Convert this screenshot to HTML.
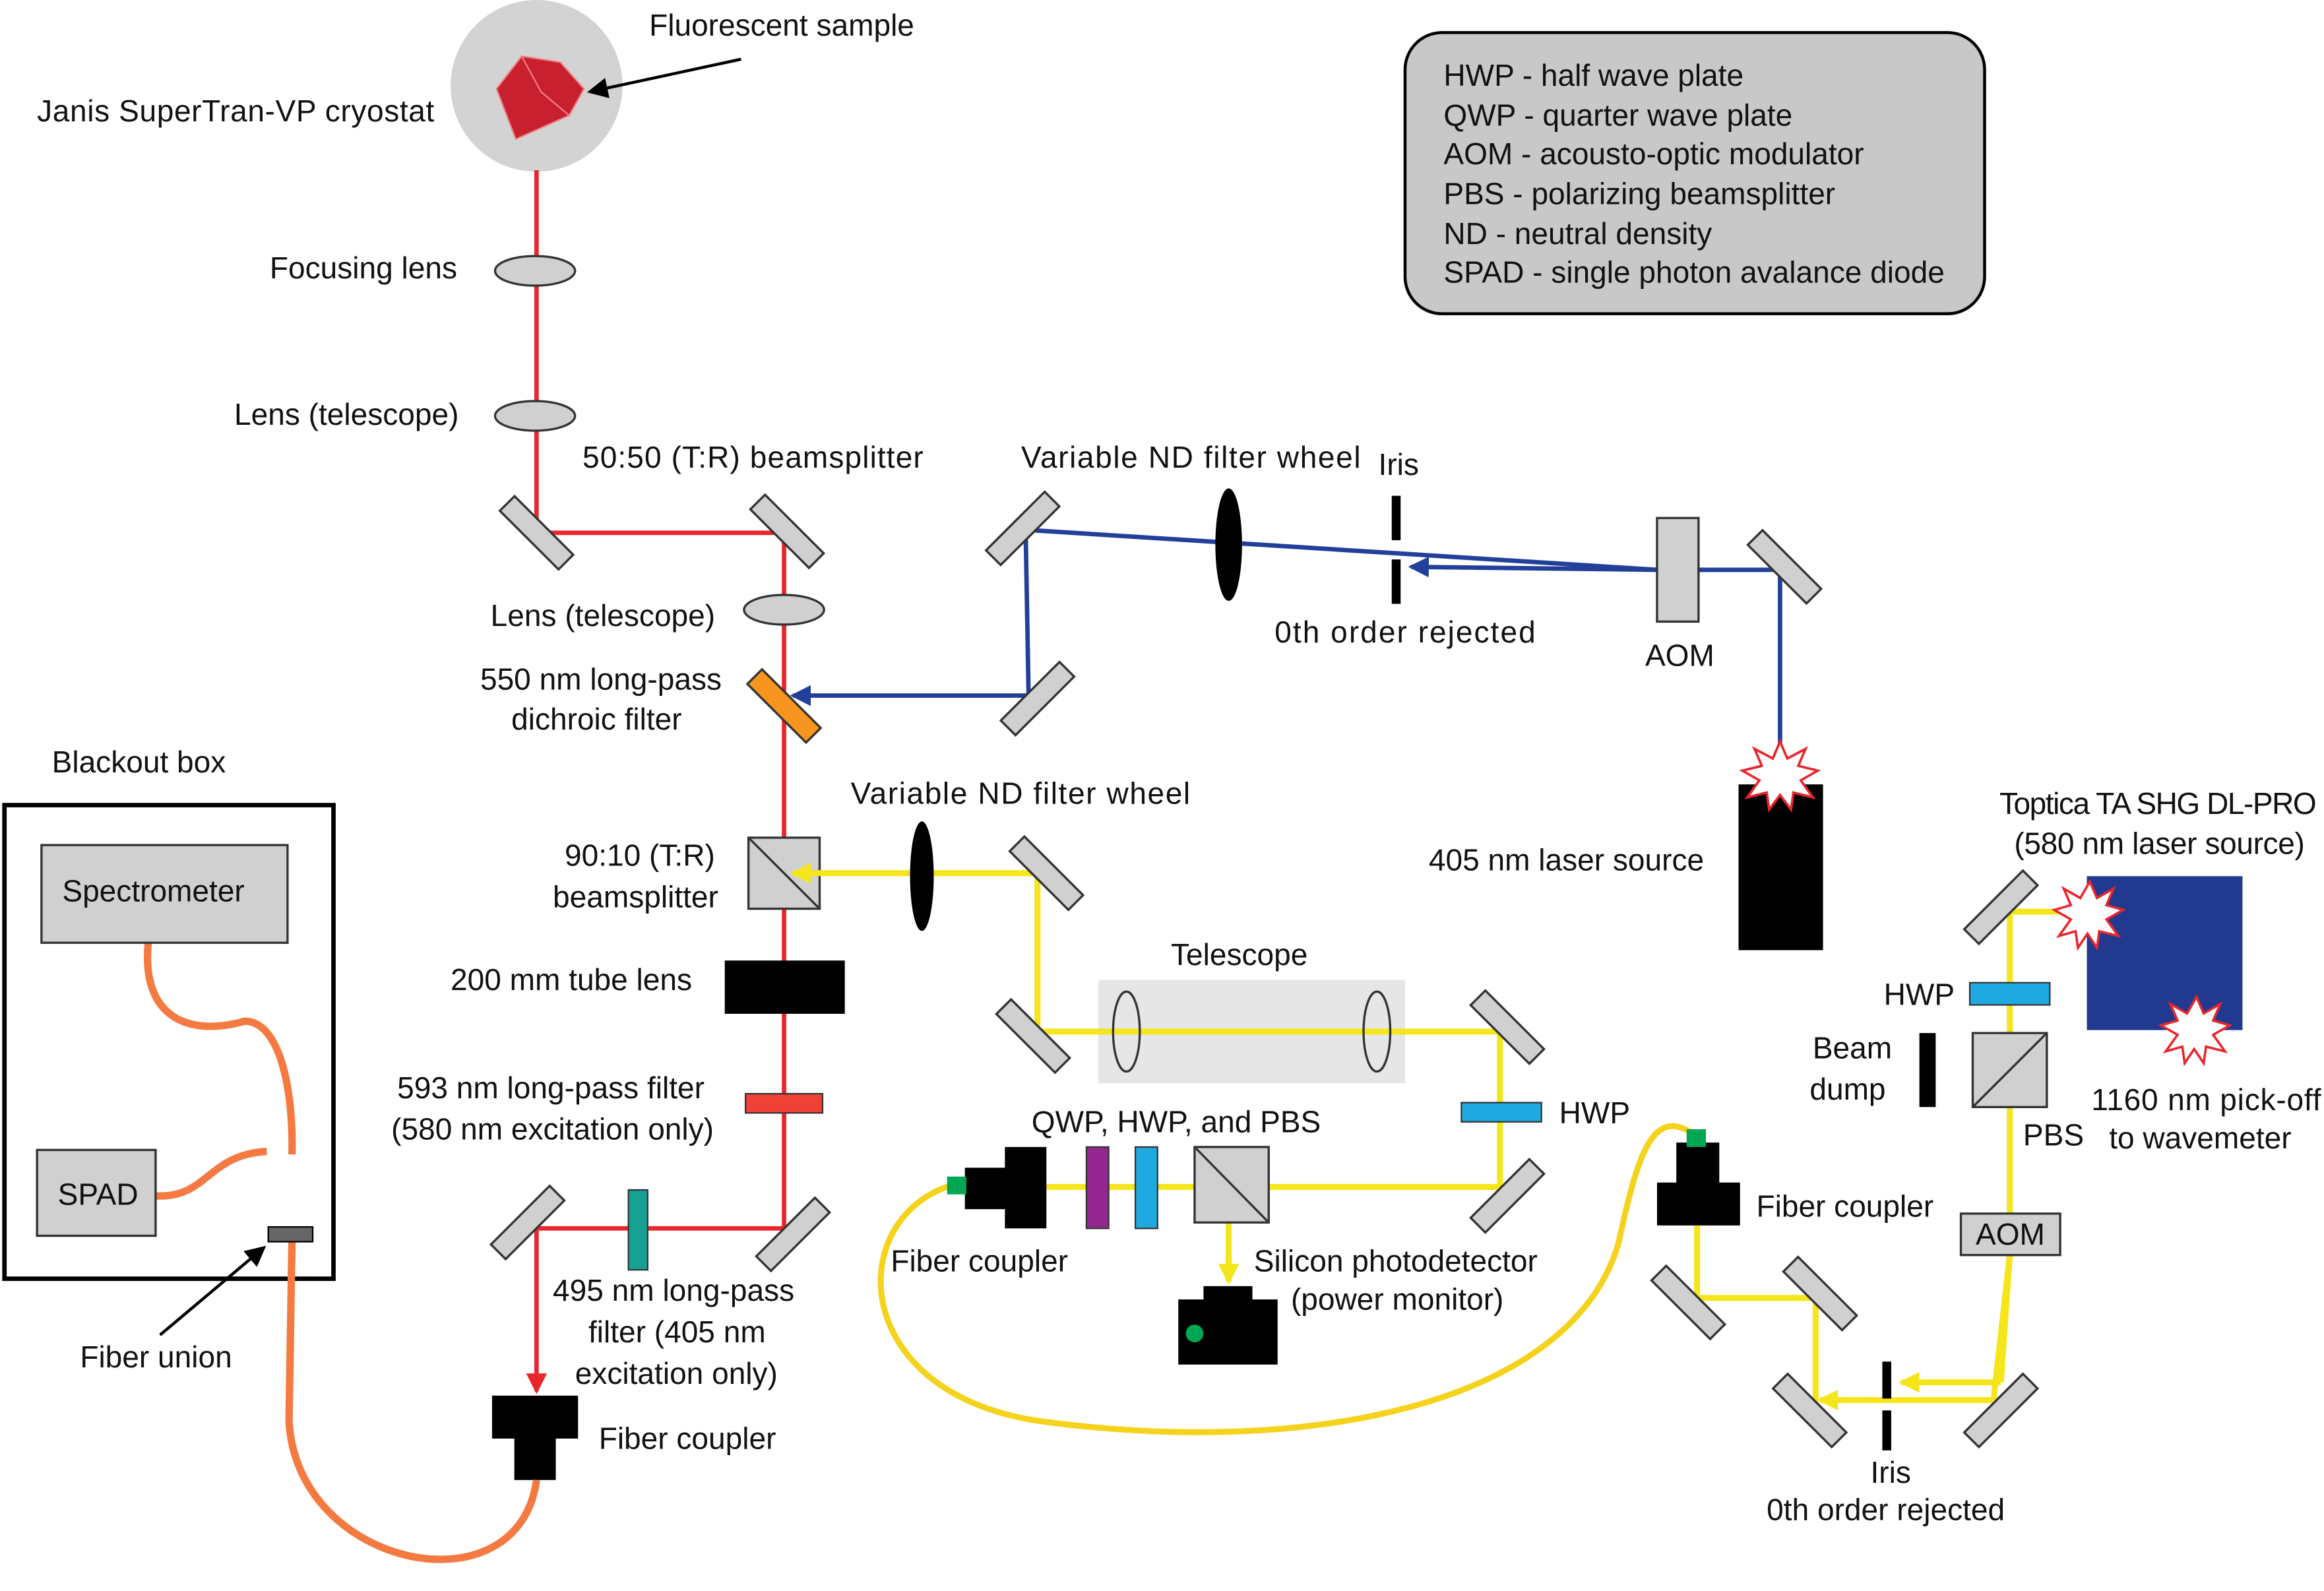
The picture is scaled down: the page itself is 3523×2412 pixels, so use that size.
<!DOCTYPE html>
<html><head><meta charset="utf-8"><style>
html,body{margin:0;padding:0;background:#fff;}
svg{display:block;}
text{font-family:"Liberation Sans",sans-serif;font-size:20.5px;fill:#111;}
.m{fill:#d0d0d0;stroke:#333;stroke-width:1.5;}
</style></head><body>
<svg width="3523" height="2412" viewBox="0 0 1568 1075" preserveAspectRatio="none" xmlns="http://www.w3.org/2000/svg">
<defs>
<marker id="ab" markerWidth="14" markerHeight="14" refX="12" refY="7" orient="auto" markerUnits="userSpaceOnUse"><path d="M0,0 L14,7 L0,14 z" fill="#22409a"/></marker>
<marker id="ay" markerWidth="14" markerHeight="14" refX="12" refY="7" orient="auto" markerUnits="userSpaceOnUse"><path d="M0,0 L14,7 L0,14 z" fill="#f5e51b"/></marker>
<marker id="ard" markerWidth="14" markerHeight="14" refX="12" refY="7" orient="auto" markerUnits="userSpaceOnUse"><path d="M0,0 L14,7 L0,14 z" fill="#e8262c"/></marker>
<marker id="ak" markerWidth="14" markerHeight="14" refX="12" refY="7" orient="auto" markerUnits="userSpaceOnUse"><path d="M0,0 L14,7 L0,14 z" fill="#000"/></marker>
</defs>

<rect x="948" y="22" width="391" height="190" rx="25" fill="#c8c8c8" stroke="#000" stroke-width="2"/>
<text x="974" y="58">HWP - half wave plate</text>
<text x="974" y="85">QWP - quarter wave plate</text>
<text x="974" y="111">AOM - acousto-optic modulator</text>
<text x="974" y="138">PBS - polarizing beamsplitter</text>
<text x="974" y="165">ND - neutral density</text>
<text x="974" y="191" textLength="338">SPAD - single photon avalance diode</text>

<circle cx="362" cy="58" r="58" fill="#d3d3d3"/>
<polygon points="335,60 352,38 378,42 394,60 384,78 348,94" fill="#c8202f" stroke="#f08080" stroke-width="1"/>
<polyline points="352,38 365,62 384,78 M365,62 348,94" fill="none" stroke="#f08080" stroke-width="1"/>
<line x1="500" y1="40" x2="398" y2="62" stroke="#000" stroke-width="2" marker-end="url(#ak)"/>
<text x="438" y="24">Fluorescent sample</text>
<text x="25" y="82" textLength="268">Janis SuperTran-VP cryostat</text>

<g stroke="#e8262c" stroke-width="3" fill="none">
<line x1="362" y1="115" x2="362" y2="360"/>
<line x1="362" y1="360" x2="529" y2="360"/>
<line x1="529" y1="360" x2="529" y2="830"/>
<line x1="362" y1="830" x2="529" y2="830"/>
<line x1="362" y1="830" x2="362" y2="940" marker-end="url(#ard)"/>
</g>
<ellipse cx="361" cy="183" rx="27" ry="10" class="m"/>
<ellipse cx="361" cy="281" rx="27" ry="10" class="m"/>
<ellipse cx="529" cy="412" rx="27" ry="10" class="m"/>
<text x="182" y="188">Focusing lens</text>
<text x="158" y="287">Lens (telescope)</text>
<text x="393" y="316" textLength="230">50:50 (T:R) beamsplitter</text>
<text x="331" y="423">Lens (telescope)</text>
<text x="324" y="466">550 nm long-pass</text>
<text x="345" y="493">dichroic filter</text>
<text x="381" y="585">90:10 (T:R)</text>
<text x="373" y="613">beamsplitter</text>
<text x="304" y="669">200 mm tube lens</text>
<text x="268" y="742">593 nm long-pass filter</text>
<text x="264" y="770">(580 nm excitation only)</text>
<text x="373" y="879">495 nm long-pass</text>
<text x="397" y="907">filter (405 nm</text>
<text x="388" y="935">excitation only)</text>
<text x="404" y="979">Fiber coupler</text>

<rect x="505" y="566" width="48" height="48" class="m"/>
<line x1="505" y1="566" x2="553" y2="614" stroke="#333" stroke-width="1.5"/>
<rect x="489" y="649" width="81" height="36" fill="#000"/>
<rect x="503" y="739" width="52" height="13" fill="#ef4136" stroke="#333"/>
<rect x="424" y="804" width="13" height="54" fill="#17a195" stroke="#333"/>
<rect x="332" y="943" width="58" height="29" fill="#000"/>
<rect x="347" y="970" width="28" height="30" fill="#000"/>
<rect x="-28" y="-7" width="56" height="14" transform="translate(529,477) rotate(45)" fill="#f7941d" stroke="#333" stroke-width="1.5"/>

<g stroke="#22409a" stroke-width="3" fill="none">
<line x1="692" y1="358" x2="1118" y2="385"/>
<line x1="1118" y1="385" x2="952" y2="383" marker-end="url(#ab)"/>
<line x1="1146" y1="385" x2="1201" y2="385"/>
<line x1="1201" y1="385" x2="1201" y2="528"/>
<line x1="692" y1="358" x2="694" y2="470"/>
<line x1="694" y1="470" x2="535" y2="470" marker-end="url(#ab)"/>
</g>
<ellipse cx="829" cy="368" rx="9" ry="38" fill="#000"/>
<rect x="939" y="335" width="6" height="30" fill="#000"/>
<rect x="939" y="378" width="6" height="30" fill="#000"/>
<rect x="1118" y="350" width="28" height="70" class="m" stroke="#000" stroke-width="2"/>
<rect x="1173" y="530" width="57" height="112" fill="#000"/>
<g transform="translate(1201,524) scale(0.82) translate(-1201,-524)">
<polygon points="1201,496 1207,510 1222,502 1216,516 1232,520 1218,528 1228,542 1212,538 1210,552 1201,540 1192,552 1190,538 1174,542 1184,528 1170,520 1186,516 1180,502 1195,510" fill="#fff" stroke="#e8262c" stroke-width="2"/>
</g>
<text x="689" y="316" textLength="229">Variable ND filter wheel</text>
<text x="930" y="321">Iris</text>
<text x="860" y="434" textLength="176">0th order rejected</text>
<text x="1110" y="450">AOM</text>
<text x="964" y="588">405 nm laser source</text>

<rect x="741" y="662" width="207" height="70" fill="#e6e6e6"/>
<g stroke="#f5e51b" stroke-width="4" fill="none">
<line x1="706" y1="590" x2="535" y2="590" marker-end="url(#ay)"/>
<line x1="700" y1="590" x2="700" y2="697"/>
<line x1="700" y1="697" x2="1012" y2="697"/>
<line x1="1012" y1="697" x2="1012" y2="802"/>
<line x1="1012" y1="802" x2="706" y2="802"/>
<line x1="829" y1="802" x2="829" y2="866" marker-end="url(#ay)"/>
<line x1="1145" y1="828" x2="1145" y2="877"/>
<line x1="1145" y1="877" x2="1225" y2="877"/>
<line x1="1225" y1="877" x2="1225" y2="950"/>
<line x1="1356" y1="616" x2="1410" y2="616"/>
<line x1="1356" y1="616" x2="1356" y2="850"/>
<line x1="1356" y1="848" x2="1345" y2="946"/>
<line x1="1356" y1="848" x2="1350" y2="934"/>
<line x1="1350" y1="934" x2="1283" y2="934" marker-end="url(#ay)"/>
<line x1="1345" y1="946" x2="1228" y2="946" marker-end="url(#ay)"/>
</g>
<path d="M645,800 C570,820 570,940 700,960 C880,985 1060,950 1092,840 C1105,780 1115,745 1145,768" fill="none" stroke="#f5d21b" stroke-width="4"/>
<ellipse cx="622" cy="592" rx="8" ry="37" fill="#000"/>
<ellipse cx="760" cy="697" rx="9" ry="27" fill="none" stroke="#333" stroke-width="1.5"/>
<ellipse cx="929" cy="697" rx="9" ry="27" fill="none" stroke="#333" stroke-width="1.5"/>
<rect x="986" y="745" width="54" height="13" fill="#1fa9e1" stroke="#333"/>
<rect x="806" y="775" width="50" height="51" class="m"/>
<line x1="806" y1="775" x2="856" y2="826" stroke="#333" stroke-width="1.5"/>
<rect x="733" y="775" width="15" height="55" fill="#92278f" stroke="#333"/>
<rect x="766" y="775" width="15" height="55" fill="#1fa9e1" stroke="#333"/>
<rect x="678" y="775" width="28" height="55" fill="#000"/>
<rect x="651" y="789" width="30" height="28" fill="#000"/>
<rect x="639" y="795" width="13" height="12" fill="#00a651"/>
<rect x="812" y="869" width="33" height="10" fill="#000"/>
<rect x="795" y="878" width="67" height="44" fill="#000"/>
<circle cx="806" cy="901" r="6" fill="#00a651"/>
<rect x="1131" y="772" width="29" height="28" fill="#000"/>
<rect x="1118" y="799" width="56" height="29" fill="#000"/>
<rect x="1138" y="763" width="13" height="12" fill="#00a651"/>
<rect x="1270" y="920" width="6" height="25" fill="#000"/>
<rect x="1270" y="953" width="6" height="27" fill="#000"/>
<text x="574" y="543" textLength="229">Variable ND filter wheel</text>
<text x="790" y="652">Telescope</text>
<text x="1052" y="759">HWP</text>
<text x="696" y="765">QWP, HWP, and PBS</text>
<text x="601" y="859">Fiber coupler</text>
<text x="846" y="859">Silicon photodetector</text>
<text x="871" y="885">(power monitor)</text>
<text x="1185" y="822">Fiber coupler</text>
<text x="1262" y="1002">Iris</text>
<text x="1192" y="1027">0th order rejected</text>

<rect x="1408" y="592" width="105" height="104" fill="#213a8f"/>
<g transform="translate(1410,618) scale(0.8) translate(-1410,-618)">
<polygon points="1410,590 1416,604 1430,596 1424,610 1438,614 1424,622 1434,636 1418,632 1416,646 1408,634 1400,646 1398,632 1384,636 1394,622 1380,614 1394,610 1388,596 1402,604" fill="#fff" stroke="#e8262c" stroke-width="2"/>
</g>
<g transform="translate(1482,696) scale(0.8) translate(-1482,-696)">
<polygon points="1482,668 1488,682 1502,674 1496,688 1510,692 1496,700 1506,714 1490,710 1488,724 1480,712 1472,724 1470,710 1456,714 1466,700 1452,692 1466,688 1460,674 1474,682" fill="#fff" stroke="#e8262c" stroke-width="2"/>
</g>
<rect x="1329" y="664" width="54" height="15" fill="#1fa9e1" stroke="#333"/>
<rect x="1331" y="698" width="50" height="50" class="m"/>
<line x1="1331" y1="748" x2="1381" y2="698" stroke="#333" stroke-width="1.5"/>
<rect x="1295" y="698" width="11" height="50" fill="#000"/>
<rect x="1323" y="820" width="67" height="28" class="m" stroke="#000" stroke-width="2"/>
<text x="1333" y="841">AOM</text>
<text x="1349" y="550" textLength="214">Toptica TA SHG DL-PRO</text>
<text x="1359" y="577" textLength="196">(580 nm laser source)</text>
<text x="1271" y="679">HWP</text>
<text x="1223" y="715">Beam</text>
<text x="1221" y="743">dump</text>
<text x="1365" y="774">PBS</text>
<text x="1411" y="750" textLength="155">1160 nm pick-off</text>
<text x="1423" y="776">to wavemeter</text>

<g class="m">
<rect x="-28" y="-7" width="56" height="14" transform="translate(362,360) rotate(45)"/>
<rect x="-28" y="-7" width="56" height="14" transform="translate(531,359) rotate(45)"/>
<rect x="-28" y="-7" width="56" height="14" transform="translate(690,357) rotate(-45)"/>
<rect x="-28" y="-7" width="56" height="14" transform="translate(700,472) rotate(-45)"/>
<rect x="-28" y="-7" width="56" height="14" transform="translate(1204,383) rotate(45)"/>
<rect x="-28" y="-7" width="56" height="14" transform="translate(706,590) rotate(45)"/>
<rect x="-28" y="-7" width="56" height="14" transform="translate(697,700) rotate(45)"/>
<rect x="-28" y="-7" width="56" height="14" transform="translate(1017,694) rotate(45)"/>
<rect x="-28" y="-7" width="56" height="14" transform="translate(1017,808) rotate(-45)"/>
<rect x="-28" y="-7" width="56" height="14" transform="translate(356,826) rotate(-45)"/>
<rect x="-28" y="-7" width="56" height="14" transform="translate(535,834) rotate(-45)"/>
<rect x="-28" y="-7" width="56" height="14" transform="translate(1139,880) rotate(45)"/>
<rect x="-28" y="-7" width="56" height="14" transform="translate(1228,874) rotate(45)"/>
<rect x="-28" y="-7" width="56" height="14" transform="translate(1221,953) rotate(45)"/>
<rect x="-28" y="-7" width="56" height="14" transform="translate(1350,953) rotate(-45)"/>
<rect x="-28" y="-7" width="56" height="14" transform="translate(1350,613) rotate(-45)"/>
</g>

<text x="35" y="522">Blackout box</text>
<rect x="3" y="544" width="222" height="320" fill="none" stroke="#000" stroke-width="3"/>
<path d="M100,637 C95,690 130,700 165,690 C190,690 198,740 197,780" fill="none" stroke="#f47a42" stroke-width="5"/>
<path d="M105,808 C140,810 140,780 180,778" fill="none" stroke="#f47a42" stroke-width="5"/>
<path d="M197,838 L195,960 C200,1060 350,1090 362,1000" fill="none" stroke="#f47a42" stroke-width="5"/>
<rect x="28" y="571" width="166" height="66" class="m" stroke="#000" stroke-width="3"/>
<text x="42" y="609">Spectrometer</text>
<rect x="25" y="777" width="80" height="58" class="m" stroke="#000" stroke-width="3"/>
<text x="39" y="814">SPAD</text>
<rect x="181" y="829" width="30" height="10" fill="#666" stroke="#000"/>
<line x1="108" y1="902" x2="178" y2="843" stroke="#000" stroke-width="2" marker-end="url(#ak)"/>
<text x="54" y="924">Fiber union</text>
</svg>
</body></html>
